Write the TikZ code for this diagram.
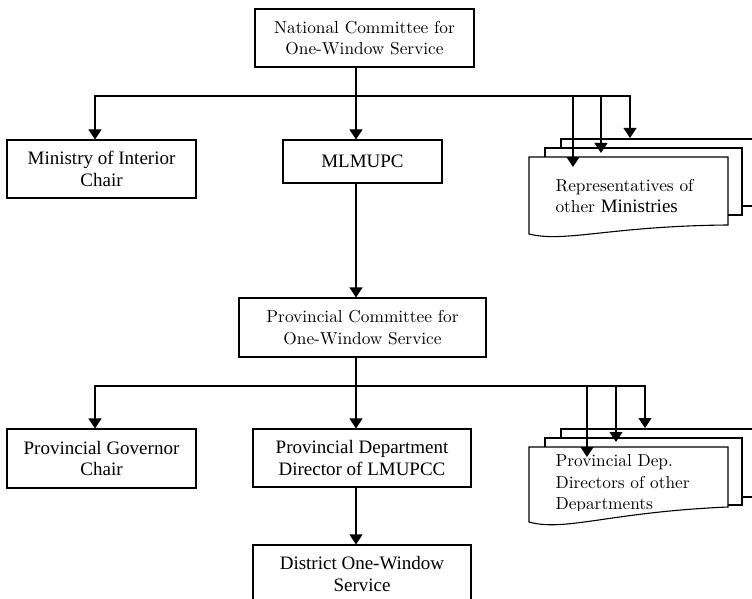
\documentclass[tikz,border=0pt]{standalone}
\usepackage{fontspec}
\newfontfamily\tnr{Liberation Serif}
\newfontfamily\lmr{lmroman10-regular.otf}
\usetikzlibrary{arrows.meta}
\begin{document}
\begin{tikzpicture}[x=1pt,y=-1pt,
  line width=1.1pt,
  arr/.style={-{Triangle[width=13pt,length=10pt]}},
  tbox/.style={draw, fill=white, inner sep=0pt, align=center, font=\fontsize{19}{21.5}\selectfont\tnr},
  gbox/.style={draw, fill=white, inner sep=0pt, align=center, font=\fontsize{17.3}{21.5}\selectfont\lmr},
  doctext/.style={inner sep=0pt, align=left, anchor=west, font=\fontsize{17.3}{21.5}\selectfont\lmr},
  layer/.style={draw, fill=white}]
\useasboundingbox (0,0) rectangle (752,599);
\clip (0,0) rectangle (752,599);

% boxes
\node[gbox, minimum width=219pt, minimum height=58pt] (nat) at (364.5,38) {National Committee for\\One-Window Service};
\node[tbox, minimum width=189pt, minimum height=58pt] (min) at (101.5,169) {Ministry of Interior\\Chair};
\node[tbox, minimum width=159pt, minimum height=43pt] (mlm) at (362.5,161.5) {MLMUPC};
\node[gbox, minimum width=247pt, minimum height=59pt] (pcom) at (362.5,327.5) {Provincial Committee for\\One-Window Service};
\node[tbox, minimum width=189pt, minimum height=59pt] (gov) at (101.5,458.5) {Provincial Governor\\Chair};
\node[tbox, minimum width=218pt, minimum height=58pt] (pdep) at (362,458) {Provincial Department\\Director of LMUPCC};
\node[tbox, minimum width=218pt, minimum height=58pt] (dist) at (362,574) {District One-Window\\Service};

% multi-document (top)
\draw[layer] (561,206) -- (561,139) -- (770,139) -- (770,206) -- cycle;
\draw[layer] (545,148) rectangle (742,215);
\draw[layer] (529,234) -- (529,157) -- (728,157) -- (728,225) .. controls (610,226) and (565,243) .. (529,234) -- cycle;
\node[doctext] (rep) at (555,196) {Representatives of\\other {\fontsize{19}{21.5}\selectfont\tnr Ministries}};

% multi-document (bottom)
\draw[layer] (561,497) -- (561,429) -- (770,429) -- (770,497) -- cycle;
\draw[layer] (545,438) rectangle (742,505);
\draw[layer] (529,522) -- (529,447) -- (728,447) -- (728,507) .. controls (610,512) and (565,532) .. (529,522) -- cycle;
\begin{scope}
\clip (529,447) rectangle (728,510);
\node[doctext] (pdd) at (555,484) {Provincial Dep.\\Directors of other\\Departments};
\end{scope}

% connectors (top level)
\coordinate (t0) at (356,96);
\coordinate (tL) at (95,96);
\coordinate (tR) at (630,96);
\coordinate (ta) at (573,96);
\coordinate (tb) at (601,96);
\coordinate (ra) at (573,167);
\coordinate (rb) at (601,153);
\coordinate (rc) at (630,138);
\draw (nat.south -| t0) -- (t0);
\draw[arr] (t0) -- (tL) -- (tL |- min.north);
\draw[arr] (t0) -- (tR) -- (rc);
\draw[arr] (t0) -- (t0 |- mlm.north);
\draw[arr] (ta) -- (ra);
\draw[arr] (tb) -- (rb);
\draw[arr] (mlm.south -| t0) -- (t0 |- pcom.north);

% connectors (provincial level)
\coordinate (b0) at (356,386);
\coordinate (bL) at (95,386);
\coordinate (bR) at (645,386);
\coordinate (ba) at (587,386);
\coordinate (bb) at (616,386);
\coordinate (sa) at (587,457);
\coordinate (sb) at (616,442);
\coordinate (sc) at (645,428);
\draw (pcom.south -| b0) -- (b0);
\draw[arr] (b0) -- (bL) -- (bL |- gov.north);
\draw[arr] (b0) -- (bR) -- (sc);
\draw[arr] (b0) -- (b0 |- pdep.north);
\draw[arr] (ba) -- (sa);
\draw[arr] (bb) -- (sb);
\draw[arr] (pdep.south -| b0) -- (b0 |- dist.north);
\end{tikzpicture}
\end{document}
